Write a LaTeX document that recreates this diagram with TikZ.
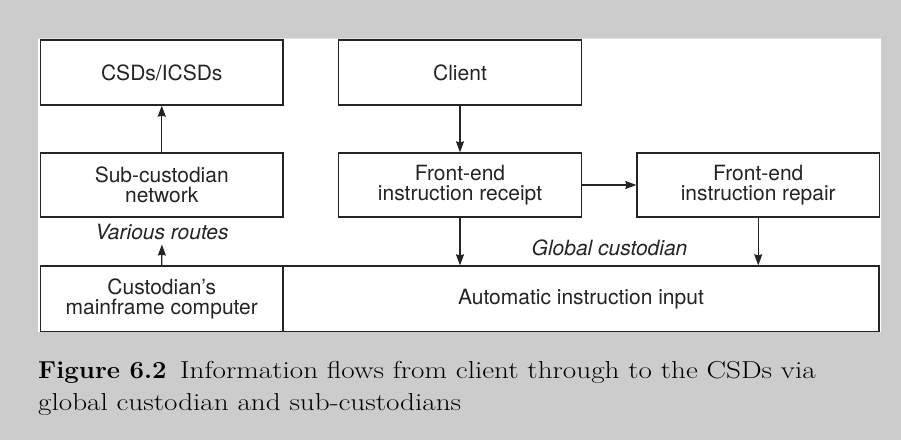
\documentclass[tikz,border=0pt]{standalone}
\usepackage{fontspec}
\usetikzlibrary{arrows.meta}
\newfontfamily\boxfont{TeX Gyre Heros}
\newfontfamily\capfont[FakeStretch=1.19, BoldFeatures={FakeStretch=1.05}]{Latin Modern Roman}
\definecolor{pagegray}{HTML}{CCCCCC}
\definecolor{ink}{HTML}{242424}
\tikzset{
  flowbox/.style={draw=ink, line width=1.3pt, fill=white, rectangle,
    minimum width=242.5pt, minimum height=65pt, inner sep=0pt,
    align=center, font=\boxfont\fontsize{21}{20.5}\selectfont, text=ink},
  flowarrow/.style={draw=ink, line width=1.3pt,
    -{Stealth[length=11pt,width=8pt,inset=1pt]}},
  routelabel/.style={font=\boxfont\itshape\fontsize{21}{21}\selectfont, text=ink, inner sep=0pt},
  captext/.style={anchor=base west, inner sep=0pt, text=black,
    font=\capfont\fontsize{24.5}{28}\selectfont}
}
\begin{document}
\begin{tikzpicture}[x=1pt, y=-1pt]
  % page and diagram panel
  \fill[pagegray] (0,0) rectangle (901,440);
  \useasboundingbox (0,0) rectangle (901,440);
  \fill[white] (38,38) rectangle (881,332);
  \draw[line width=1pt, color=black!12] (38,38.5) -- (881,38.5);

  % boxes
  \node[flowbox] (csd) at (161.75,72.5) {CSDs/ICSDs};
  \node[flowbox] (client) at (460,72.5) {Client};
  \node[flowbox, minimum height=64pt] (sub) at (161.75,185) {Sub-custodian\\network};
  \node[flowbox, minimum height=64pt] (receipt) at (460,185) {Front-end\\instruction receipt};
  \node[flowbox, minimum height=64pt] (repair) at (758.25,185) {Front-end\\instruction repair};
  \node[flowbox, minimum height=65.5pt] (mainframe) at (161.75,298.75) {Custodian’s\\mainframe computer};
  \node[flowbox, minimum height=65.5pt, minimum width=596pt] (auto) at (581,298.75) {Automatic instruction input};

  % labels between rows
  \node[routelabel] (routes) at (162,231.5) {Various routes};
  \node[routelabel] (global) at (609.5,248) {Global custodian};

  % connectors
  \draw[flowarrow] (sub.north) -- (csd.south);
  \draw[flowarrow, shorten >=5pt] (mainframe.north) -- (routes.south);
  \draw[flowarrow] (client.south) -- (receipt.north);
  \draw[flowarrow] (receipt.east) -- (repair.west);
  \draw[flowarrow] (receipt.south) -- (receipt.south |- auto.north);
  \draw[flowarrow] (repair.south) -- (repair.south |- auto.north);

  % caption
  \node[captext] (cap1) at (38,378) {\textbf{Figure 6.2}\hspace{0.55em}Information flows from client through to the CSDs via};
  \node[captext] (cap2) at (38,410) {global custodian and sub-custodians};
\end{tikzpicture}
\end{document}
